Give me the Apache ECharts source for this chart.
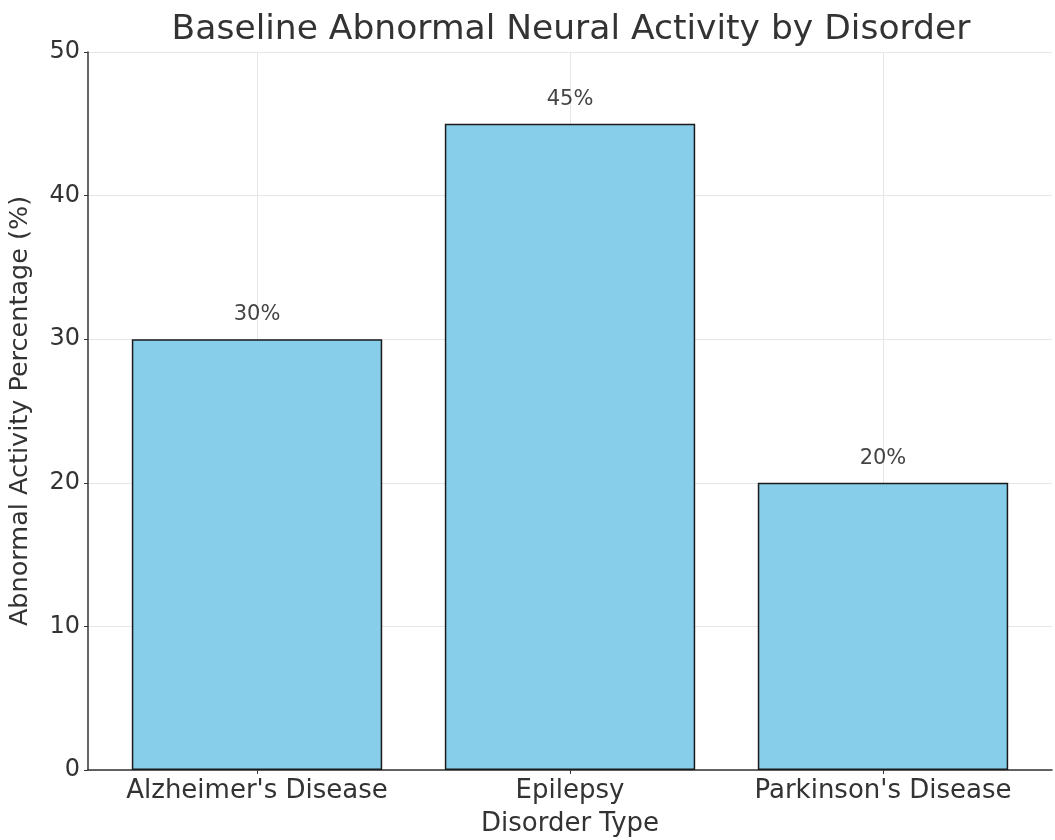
<!DOCTYPE html>
<html>
<head>
<meta charset="utf-8">
<script src="https://cdn.jsdelivr.net/npm/echarts@6/dist/echarts.min.js"></script>
<style>
  html, body { margin: 0; padding: 0; background: #ffffff; }
  #chart { width: 1055px; height: 840px; }
</style>
</head>
<body>
<div id="chart"></div>
<script>
// Disorders and their baseline share of abnormal neural activity (%)
const categories = ["Alzheimer's Disease", "Epilepsy", "Parkinson's Disease"];
const activityPct = [30, 45, 20];
const yTicks = [0, 10, 20, 30, 40, 50];

const FONT = 'DejaVu Sans';
const TEXT = '#333333';
const xMin = -0.54, xMax = categories.length - 1 + 0.54;
const barFraction = 0.8;

const chart = echarts.init(document.getElementById('chart'), null, { renderer: 'canvas' });

const gridLeft = 88, gridRight = 3;
const plotWidth = 1055 - gridLeft - gridRight;
const barPx = plotWidth / (xMax - xMin) * barFraction;
const catIdx = categories.map((_, i) => i);

chart.setOption({
  animation: false,
  backgroundColor: '#ffffff',
  title: {
    text: 'Baseline Abnormal Neural Activity by Disorder',
    left: gridLeft + plotWidth / 2 - 4,
    textAlign: 'center',
    top: 8,
    textStyle: { fontFamily: FONT, fontSize: 34.5, fontWeight: 'normal', color: TEXT }
  },
  grid: {
    left: gridLeft, right: gridRight, top: 52, bottom: 70,
    containLabel: false, outerBoundsMode: 'none'
  },
  xAxis: {
    type: 'value',
    min: xMin,
    max: xMax,
    name: 'Disorder Type',
    nameLocation: 'middle',
    nameGap: 41,
    nameTextStyle: { fontFamily: FONT, fontSize: 26, color: TEXT },
    axisLine: { show: true, onZero: false, lineStyle: { color: TEXT, width: 1.5 } },
    axisTick: { show: true, length: 4, customValues: catIdx, lineStyle: { color: TEXT } },
    axisLabel: {
      customValues: catIdx,
      formatter: v => categories[Math.round(v)] || '',
      fontFamily: FONT, fontSize: 26, color: TEXT, margin: 8
    },
    splitLine: { show: true, lineStyle: { color: '#e6e6e6', width: 1 } }
  },
  yAxis: {
    type: 'value',
    min: yTicks[0],
    max: yTicks[yTicks.length - 1],
    interval: 10,
    name: 'Abnormal Activity Percentage (%)',
    nameLocation: 'middle',
    nameGap: 55,
    nameTextStyle: { fontFamily: FONT, fontSize: 25.5, color: TEXT },
    axisLine: { show: true, onZero: false, lineStyle: { color: TEXT, width: 1.5 } },
    axisTick: { show: true, length: 4, lineStyle: { color: TEXT } },
    axisLabel: { fontFamily: FONT, fontSize: 24, color: TEXT, margin: 8 },
    splitLine: { show: true, lineStyle: { color: '#e6e6e6', width: 1 } }
  },
  series: [{
    type: 'bar',
    data: activityPct.map((v, i) => [i, v]),
    barWidth: barPx,
    itemStyle: { color: '#87CEEB', borderColor: '#1a1a1a', borderWidth: 1.5 },
    label: {
      show: true,
      position: 'top',
      distance: 14,
      formatter: p => p.value[1] + '%',
      fontFamily: FONT, fontSize: 21, color: '#444444'
    }
  }]
});
</script>
</body>
</html>
